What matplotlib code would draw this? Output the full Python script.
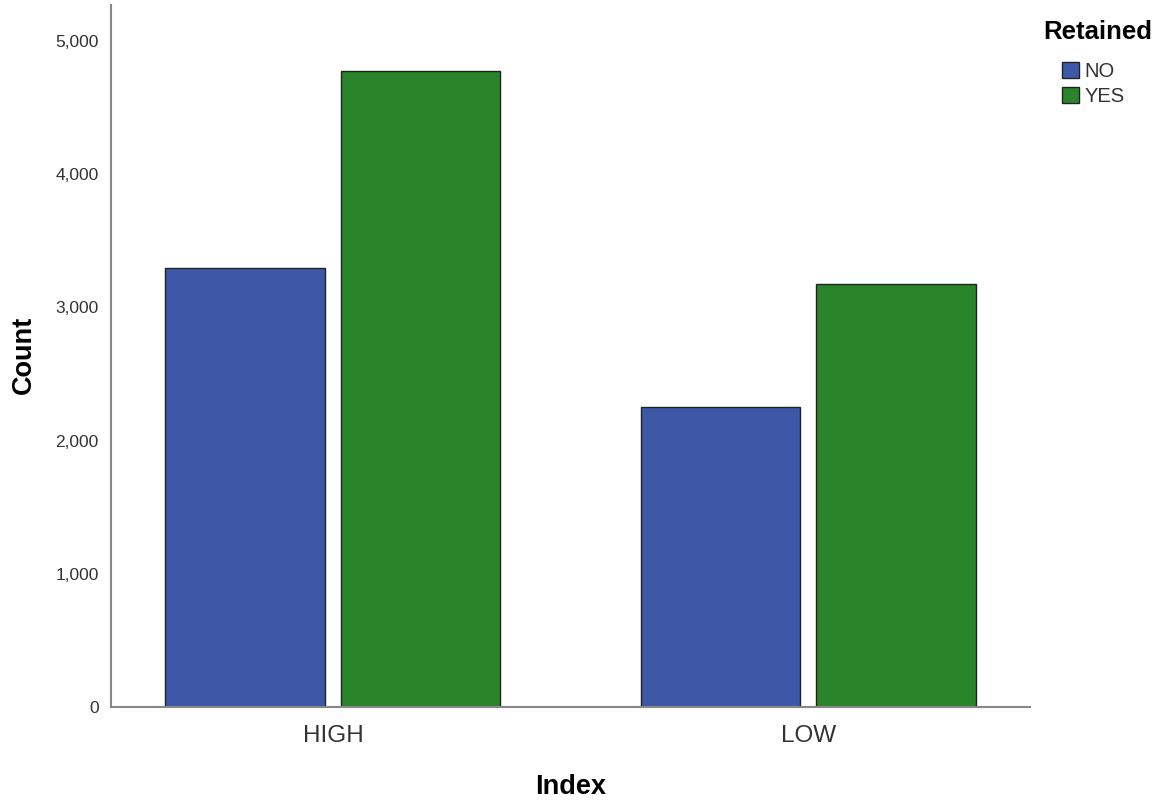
import matplotlib.pyplot as plt
import numpy as np

plt.rcParams['font.family'] = ['Liberation Sans', 'DejaVu Sans']

categories = ['HIGH', 'LOW']
groups = ['NO', 'YES']
counts_no = [3296, 2252]
counts_yes = [4775, 3176]
colors = ['#3e58a8', '#2a852a']

fig = plt.figure(figsize=(11.6, 8.02), dpi=100)
ax = fig.add_axes([0.0957, 0.1185, 0.7922, 0.8753])

x = np.arange(len(categories))
w = 0.335
off = 0.185
ax.bar(x - off, counts_no, w, color=colors[0], edgecolor='#222222', linewidth=1.0, label=groups[0])
ax.bar(x + off, counts_yes, w, color=colors[1], edgecolor='#222222', linewidth=1.0, label=groups[1])

ax.set_xlim(-0.467, 1.467)
ax.set_ylim(0, 5270)
ax.set_yticks([0, 1000, 2000, 3000, 4000, 5000])
ax.set_yticklabels(['0', '1,000', '2,000', '3,000', '4,000', '5,000'])
ax.set_xticks(x)
ax.set_xticklabels(categories)

ax.tick_params(axis='y', length=0, pad=9, labelsize=12.5, labelcolor='#333333')
ax.tick_params(axis='x', length=0, pad=13, labelsize=17.5, labelcolor='#333333')
for s in ['top', 'right']:
    ax.spines[s].set_visible(False)
for s in ['left', 'bottom']:
    ax.spines[s].set_color('#888888')
    ax.spines[s].set_linewidth(1.5)

ax.set_xlabel('Index', fontsize=19.5, fontweight='bold', va='center')
ax.set_ylabel('Count', fontsize=19.5, fontweight='bold', va='center')
ax.xaxis.set_label_coords(571 / 1160, 1 - 787 / 802, transform=fig.transFigure)
ax.yaxis.set_label_coords(24 / 1160, 1 - 355 / 802, transform=fig.transFigure)

fig.text(1098 / 1160, 1 - 32 / 802, 'Retained', fontsize=18.5, fontweight='bold',
         ha='center', va='center')
leg = ax.legend(loc='upper left', bbox_to_anchor=(1062 / 1160, 1 - 62 / 802),
                bbox_transform=fig.transFigure, frameon=False, fontsize=14.5,
                handlelength=0.85, handleheight=0.85, handletextpad=0.25,
                labelspacing=0.3, borderaxespad=0, borderpad=0)
for t in leg.get_texts():
    t.set_color('#333333')

fig.savefig('out.png', dpi=100)
